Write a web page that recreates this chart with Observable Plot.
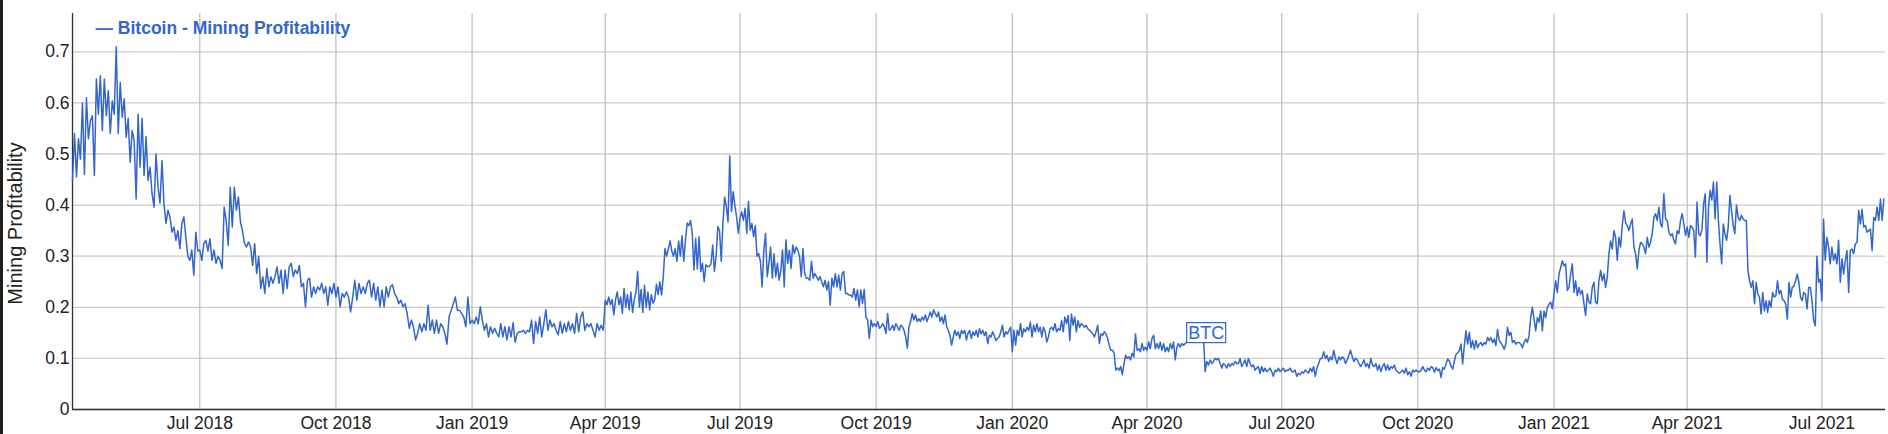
<!DOCTYPE html>
<html><head><meta charset="utf-8">
<script src="https://cdn.jsdelivr.net/npm/d3@7"></script>
<script src="https://cdn.jsdelivr.net/npm/@observablehq/plot@0.6"></script>
<style>
html,body{margin:0;padding:0;background:#fff;}
#wrap{position:relative;width:1888px;height:434px;overflow:hidden;background:#fff;}
#edge{position:absolute;left:0;top:0;width:3px;height:434px;background:#1e1e1e;}
</style></head><body>
<div id="wrap"><div id="chart"></div><div id="edge"></div></div>
<script>
// Segment boundaries (values inside each segment are read at even steps between its bounds)
const segmentBounds = ["2018-04-06","2018-07-01","2018-10-01","2019-01-01","2019-04-01","2019-07-01","2019-10-01","2020-01-01","2020-04-01","2020-07-01","2020-10-01","2021-01-01","2021-04-01","2021-07-01","2021-08-13"];

const q2_2018 = [0.448,0.54,0.455,0.53,0.49,0.60,0.46,0.61,0.53,0.565,0.575,0.458,0.647,0.578,0.653,0.546,0.647,0.575,0.624,0.54,0.604,0.578,0.71,0.54,0.64,0.572,0.608,0.533,0.57,0.484,0.546,0.526,0.412,0.578,0.474,0.57,0.458,0.534,0.448,0.474,0.422,0.396,0.50,0.435,0.404,0.487,0.403,0.364,0.39,0.377,0.347,0.357,0.331,0.35,0.315,0.364,0.377,0.337,0.30,0.292,0.312,0.263,0.347,0.31];
const q3_2018 = [0.312,0.292,0.325,0.331,0.31,0.334,0.292,0.312,0.286,0.30,0.292,0.276,0.396,0.37,0.321,0.435,0.357,0.435,0.39,0.416,0.367,0.35,0.325,0.318,0.328,0.318,0.282,0.325,0.266,0.30,0.237,0.26,0.227,0.276,0.24,0.26,0.247,0.26,0.279,0.247,0.273,0.227,0.273,0.237,0.279,0.286,0.26,0.273,0.266,0.282,0.24,0.247,0.201,0.253,0.257,0.22,0.24,0.227,0.24,0.234,0.247,0.227,0.24,0.204,0.24,0.227,0.247];
const q4_2018 = [0.22,0.24,0.201,0.227,0.22,0.23,0.22,0.191,0.22,0.253,0.214,0.247,0.227,0.24,0.227,0.247,0.253,0.22,0.247,0.214,0.24,0.201,0.234,0.201,0.24,0.22,0.24,0.244,0.227,0.22,0.207,0.214,0.201,0.207,0.188,0.159,0.175,0.162,0.136,0.149,0.168,0.152,0.168,0.155,0.204,0.155,0.175,0.149,0.175,0.149,0.168,0.162,0.149,0.128,0.181,0.194,0.207,0.22,0.194,0.194,0.188,0.181,0.162,0.22,0.168];
const q1_2019 = [0.175,0.168,0.181,0.168,0.201,0.175,0.155,0.168,0.142,0.162,0.149,0.159,0.149,0.142,0.168,0.142,0.162,0.136,0.162,0.142,0.17,0.132,0.149,0.152,0.152,0.155,0.149,0.155,0.152,0.175,0.129,0.172,0.149,0.181,0.142,0.168,0.195,0.155,0.175,0.162,0.168,0.155,0.146,0.172,0.149,0.168,0.152,0.172,0.155,0.168,0.149,0.188,0.152,0.181,0.191,0.155,0.168,0.162,0.168,0.155,0.142,0.168,0.155,0.165,0.155];
const q2_2019 = [0.214,0.205,0.22,0.205,0.215,0.185,0.215,0.23,0.205,0.22,0.188,0.237,0.20,0.225,0.195,0.23,0.19,0.215,0.23,0.27,0.20,0.235,0.19,0.243,0.20,0.23,0.195,0.225,0.208,0.215,0.245,0.225,0.25,0.224,0.26,0.315,0.30,0.315,0.33,0.31,0.30,0.315,0.29,0.33,0.30,0.34,0.29,0.33,0.365,0.36,0.37,0.345,0.273,0.335,0.275,0.338,0.27,0.286,0.25,0.283,0.28,0.28,0.285,0.322,0.27,0.30,0.358,0.35,0.29,0.364,0.416,0.397,0.367,0.496,0.387,0.426,0.40,0.377,0.345];
const q3_2019 = [0.374,0.387,0.37,0.394,0.345,0.407,0.351,0.364,0.338,0.36,0.30,0.305,0.29,0.24,0.31,0.345,0.26,0.286,0.318,0.257,0.305,0.26,0.286,0.253,0.273,0.312,0.24,0.332,0.286,0.312,0.276,0.322,0.305,0.318,0.312,0.30,0.26,0.315,0.266,0.257,0.257,0.253,0.29,0.257,0.266,0.26,0.253,0.26,0.25,0.24,0.253,0.234,0.25,0.204,0.257,0.24,0.266,0.24,0.263,0.234,0.266,0.27,0.227,0.227,0.224,0.224,0.22,0.237,0.214,0.234,0.201,0.234,0.208,0.235,0.181,0.175,0.139,0.175,0.162,0.168];
const q4_2019 = [0.162,0.172,0.159,0.162,0.168,0.162,0.149,0.188,0.155,0.158,0.165,0.155,0.168,0.162,0.155,0.165,0.162,0.155,0.142,0.12,0.162,0.172,0.188,0.175,0.185,0.172,0.178,0.172,0.181,0.175,0.185,0.172,0.181,0.191,0.181,0.195,0.188,0.181,0.191,0.172,0.181,0.168,0.185,0.162,0.155,0.145,0.126,0.142,0.155,0.145,0.152,0.139,0.155,0.149,0.155,0.136,0.149,0.155,0.139,0.152,0.145,0.155,0.142,0.158,0.148,0.155,0.145,0.152,0.129,0.145,0.142,0.152,0.145,0.135,0.139,0.142,0.152,0.165,0.142,0.152,0.148,0.155,0.161];
const q1_2020 = [0.113,0.155,0.126,0.155,0.145,0.168,0.142,0.158,0.152,0.161,0.155,0.171,0.142,0.165,0.152,0.168,0.152,0.161,0.142,0.161,0.152,0.132,0.142,0.158,0.161,0.155,0.168,0.152,0.158,0.155,0.174,0.152,0.181,0.168,0.184,0.135,0.187,0.165,0.181,0.152,0.174,0.161,0.168,0.165,0.161,0.165,0.158,0.155,0.152,0.148,0.142,0.152,0.165,0.129,0.148,0.145,0.152,0.148,0.139,0.126,0.116,0.116,0.11,0.077,0.081,0.077,0.084,0.068,0.09,0.106,0.10,0.103,0.097,0.11,0.103,0.148,0.116,0.119,0.113,0.129,0.116,0.122];
const q2_2020 = [0.116,0.132,0.119,0.139,0.145,0.119,0.129,0.119,0.132,0.116,0.129,0.113,0.122,0.113,0.129,0.119,0.132,0.097,0.122,0.129,0.122,0.129,0.126,0.129,0.132,0.135,0.138,0.134,0.137,0.133,0.136,0.138,0.135,0.137,0.14,0.074,0.094,0.087,0.097,0.09,0.094,0.10,0.097,0.10,0.09,0.081,0.09,0.087,0.081,0.09,0.084,0.09,0.087,0.094,0.09,0.09,0.10,0.084,0.09,0.097,0.084,0.10,0.09,0.084,0.087,0.077,0.081,0.084,0.071,0.084,0.074,0.081,0.074,0.077,0.081,0.074,0.065,0.077,0.074,0.081,0.074];
const q3_2020 = [0.077,0.081,0.074,0.077,0.077,0.081,0.074,0.074,0.077,0.065,0.071,0.068,0.074,0.071,0.077,0.074,0.071,0.081,0.074,0.084,0.065,0.081,0.09,0.10,0.10,0.113,0.10,0.106,0.094,0.103,0.097,0.116,0.10,0.09,0.103,0.097,0.103,0.10,0.09,0.097,0.106,0.116,0.103,0.094,0.10,0.097,0.09,0.084,0.09,0.097,0.084,0.09,0.081,0.10,0.087,0.084,0.09,0.077,0.087,0.074,0.084,0.09,0.077,0.087,0.077,0.084,0.081,0.087,0.077,0.074,0.071,0.074,0.077,0.071,0.081,0.068,0.074,0.065,0.077,0.074,0.077];
const q4_2020 = [0.074,0.074,0.077,0.084,0.077,0.074,0.081,0.077,0.084,0.082,0.073,0.082,0.076,0.079,0.063,0.082,0.079,0.089,0.099,0.095,0.085,0.079,0.095,0.108,0.111,0.115,0.128,0.089,0.125,0.154,0.128,0.151,0.121,0.135,0.118,0.135,0.121,0.128,0.131,0.125,0.131,0.128,0.141,0.135,0.141,0.131,0.138,0.125,0.157,0.135,0.131,0.125,0.118,0.128,0.161,0.145,0.151,0.131,0.135,0.128,0.131,0.131,0.128,0.121,0.131,0.138,0.131,0.145,0.18,0.20,0.177,0.154,0.18,0.171,0.193,0.154,0.193,0.18,0.20,0.206,0.21,0.197];
const q1_2021 = [0.226,0.252,0.229,0.265,0.278,0.291,0.281,0.285,0.233,0.239,0.265,0.285,0.229,0.252,0.223,0.239,0.226,0.233,0.207,0.184,0.226,0.21,0.207,0.239,0.249,0.21,0.207,0.252,0.272,0.252,0.265,0.239,0.259,0.305,0.33,0.314,0.35,0.337,0.292,0.337,0.318,0.36,0.389,0.366,0.36,0.35,0.363,0.373,0.318,0.305,0.275,0.311,0.327,0.324,0.318,0.305,0.337,0.318,0.327,0.344,0.376,0.383,0.37,0.396,0.363,0.357,0.422,0.373,0.37,0.347,0.34,0.344,0.331,0.324,0.35,0.344,0.37,0.383,0.363,0.341];
const q2_2021 = [0.357,0.337,0.36,0.357,0.35,0.298,0.406,0.344,0.34,0.353,0.403,0.422,0.288,0.396,0.429,0.41,0.445,0.373,0.445,0.37,0.324,0.285,0.363,0.344,0.331,0.357,0.419,0.39,0.36,0.344,0.40,0.377,0.37,0.38,0.373,0.37,0.37,0.272,0.252,0.239,0.252,0.207,0.249,0.226,0.22,0.187,0.229,0.193,0.213,0.19,0.213,0.20,0.229,0.22,0.223,0.252,0.226,0.233,0.216,0.213,0.206,0.177,0.249,0.22,0.239,0.242,0.252,0.265,0.249,0.22,0.213,0.229,0.226,0.197,0.239,0.239,0.213,0.174,0.164,0.30,0.249,0.255];
const q3_2021 = [0.213,0.373,0.292,0.337,0.318,0.285,0.318,0.292,0.305,0.285,0.331,0.249,0.295,0.265,0.292,0.311,0.229,0.311,0.314,0.305,0.324,0.327,0.39,0.363,0.392,0.357,0.36,0.347,0.35,0.353,0.311,0.376,0.37,0.396,0.37,0.412,0.37,0.412];

const segments = [q2_2018,q3_2018,q4_2018,q1_2019,q2_2019,q3_2019,q4_2019,q1_2020,q2_2020,q3_2020,q4_2020,q1_2021,q2_2021,q3_2021];

const yTicks = [0,0.1,0.2,0.3,0.4,0.5,0.6,0.7];
const yTickLabels = ["0","0.1","0.2","0.3","0.4","0.5","0.6","0.7"];
const xTicks = ["2018-07-01","2018-10-01","2019-01-01","2019-04-01","2019-07-01","2019-10-01","2020-01-01","2020-04-01","2020-07-01","2020-10-01","2021-01-01","2021-04-01","2021-07-01"];
const xTickLabels = ["Jul 2018","Oct 2018","Jan 2019","Apr 2019","Jul 2019","Oct 2019","Jan 2020","Apr 2020","Jul 2020","Oct 2020","Jan 2021","Apr 2021","Jul 2021"];
const xDomain = ["2018-04-06","2021-08-13"];
const yDomain = [0, 0.775];
const seriesName = "Bitcoin - Mining Profitability";
const yTitle = "Mining Profitability";
const annotations = [{date: "2020-05-11", value: 0.15, label: "BTC"}];

const data = [];
segments.forEach((vals, i) => {
  const t0 = new Date(segmentBounds[i]).getTime();
  const t1 = new Date(segmentBounds[i + 1]).getTime();
  vals.forEach((v, j) => data.push({date: new Date(t0 + (t1 - t0) * j / vals.length), value: v}));
});

const blue = "#3366cc";
const xTickDates = xTicks.map(s => new Date(s));
const xd = xDomain.map(s => new Date(s));

const chart = Plot.plot({
  width: 1888, height: 434,
  marginLeft: 72, marginRight: 3, marginTop: 13, marginBottom: 25,
  style: {fontFamily: "Arial, 'Liberation Sans', sans-serif", fontSize: "17.5px", color: "#222", background: "#fff", overflow: "visible"},
  x: {type: "utc", domain: xd},
  y: {domain: yDomain},
  marks: [
    Plot.gridY(yTicks, {stroke: "#cccccc", strokeOpacity: 1, strokeWidth: 1.3}),
    Plot.gridX(xTickDates, {stroke: "#c2c2c2", strokeOpacity: 1, strokeWidth: 1.3}),
    Plot.axisY(yTicks, {tickSize: 0, tickPadding: 3, label: null, fill: "#222", fontSize: 17.5,
      tickFormat: d => yTickLabels[yTicks.indexOf(d)]}),
    Plot.axisX(xTickDates, {tickSize: 0, tickPadding: 7, label: null, fill: "#222", fontSize: 17.5,
      tickFormat: d => xTickLabels[xTickDates.findIndex(t => +t === +d)]}),
    Plot.ruleY([0], {stroke: "#333", strokeWidth: 1.3}),
    Plot.ruleX([xd[0]], {stroke: "#333", strokeWidth: 1.3}),
    Plot.line(data, {x: "date", y: "value", stroke: blue, strokeWidth: 1.5}),
    Plot.text(annotations, {x: d => new Date(d.date), y: "value", text: "label", fill: blue, fontSize: 18, className: "btc-note"}),
    Plot.text([seriesName], {frameAnchor: "top-left", text: d => "— " + d, textAnchor: "start", lineAnchor: "middle", dx: 23, dy: 15,
      fill: blue, fontWeight: "bold", fontSize: 17.5}),
    Plot.text([yTitle], {frameAnchor: "left", text: d => d, textAnchor: "middle", lineAnchor: "middle", rotate: -90, dx: -57, dy: 12, fill: "#222", fontSize: 20})
  ]
});

document.getElementById("chart").append(chart);

// white framed box behind the "BTC" annotation
const noteText = chart.querySelector(".btc-note text");
if (noteText) {
  const bb = noteText.getBBox();
  const rect = document.createElementNS("http://www.w3.org/2000/svg", "rect");
  rect.setAttribute("x", bb.x - 1.5);
  rect.setAttribute("y", bb.y);
  rect.setAttribute("width", bb.width + 3);
  rect.setAttribute("height", bb.height);
  rect.setAttribute("fill", "#fff");
  rect.setAttribute("stroke", blue);
  rect.setAttribute("stroke-width", 1.2);
  const tr = noteText.getAttribute("transform");
  if (tr) rect.setAttribute("transform", tr);
  noteText.parentNode.insertBefore(rect, noteText);
}
</script>
</body></html>
